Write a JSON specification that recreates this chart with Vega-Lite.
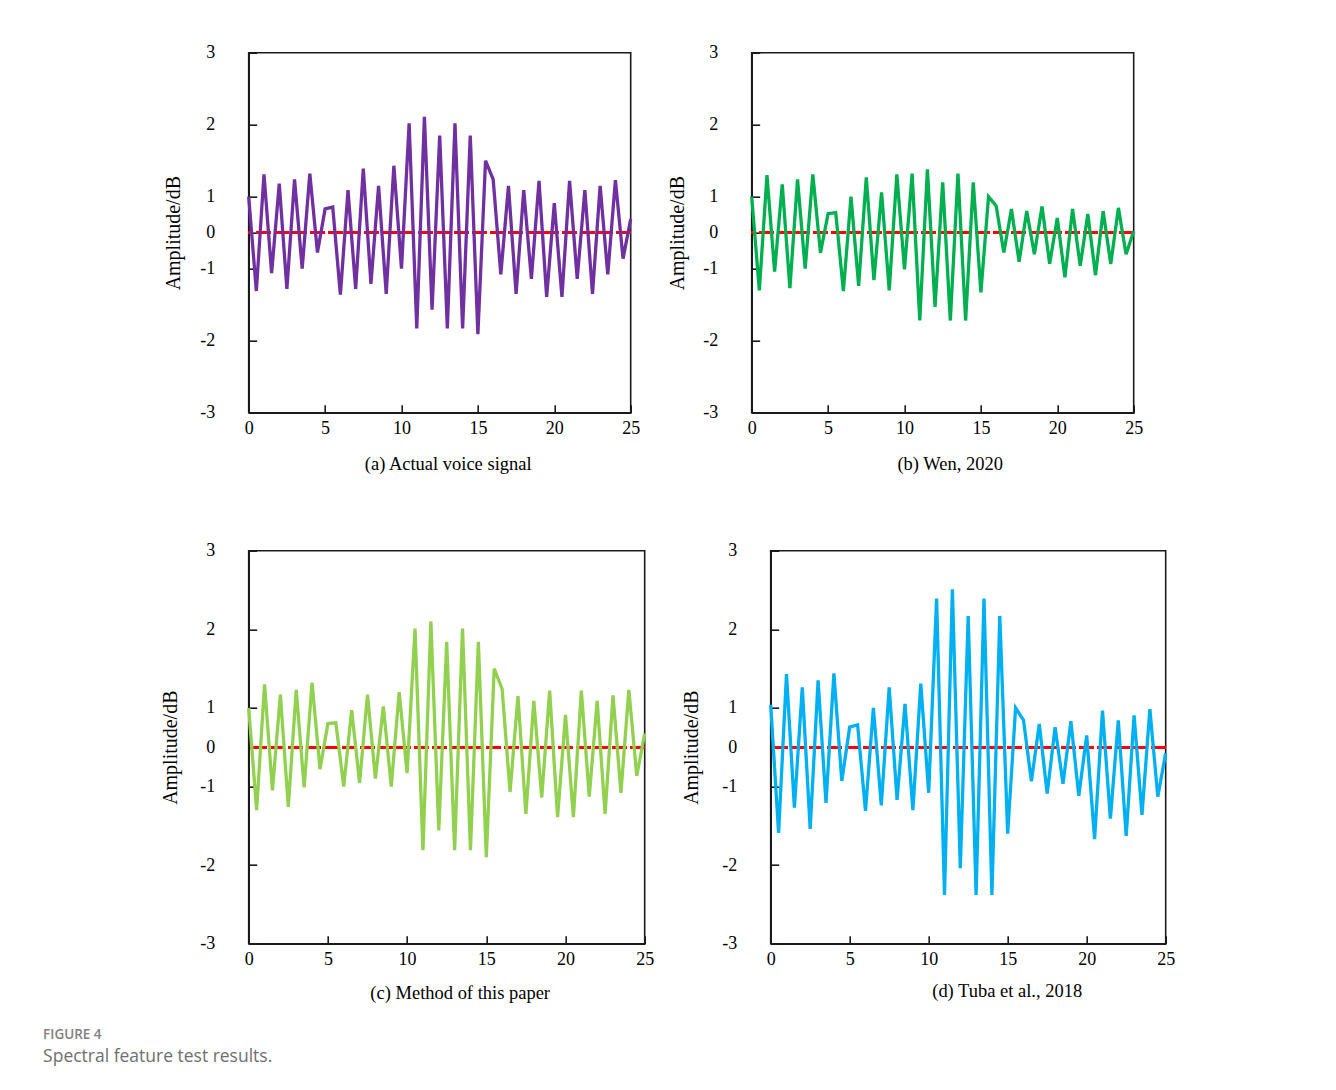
{
  "$schema": "https://vega.github.io/schema/vega-lite/v6.json",
  "background": "white",
  "padding": {"left": 42.7, "top": 42.7, "right": 5, "bottom": 5},
  "autosize": {"type": "pad"},
  "title": {
    "text": "FIGURE 4",
    "subtitle": "Spectral feature test results.",
    "orient": "bottom",
    "anchor": "start",
    "frame": "bounds",
    "offset": 25,
    "dx": -116.3,
    "baseline": "top",
    "font": "Open Sans",
    "fontSize": 13.5,
    "fontWeight": 600,
    "color": "#808080",
    "subtitleFont": "Open Sans",
    "subtitleFontSize": 17.5,
    "subtitleColor": "#6e6e6e",
    "subtitlePadding": 7
  },
  "datasets": {
    "a": [
      {"t": 0, "v": 1.0}, {"t": 0.5, "v": -1.31}, {"t": 1, "v": 1.31}, {"t": 1.5, "v": -1.06}, {"t": 2, "v": 1.18},
      {"t": 2.5, "v": -1.28}, {"t": 3, "v": 1.24}, {"t": 3.5, "v": -1.0}, {"t": 4, "v": 1.32}, {"t": 4.5, "v": -0.55},
      {"t": 5, "v": 0.66}, {"t": 5.5, "v": 0.71}, {"t": 6, "v": -1.36}, {"t": 6.5, "v": 1.09}, {"t": 7, "v": -1.28},
      {"t": 7.5, "v": 1.39}, {"t": 8, "v": -1.21}, {"t": 8.5, "v": 1.15}, {"t": 9, "v": -1.35}, {"t": 9.5, "v": 1.43},
      {"t": 10, "v": -1.0}, {"t": 10.5, "v": 2.02}, {"t": 11, "v": -1.83}, {"t": 11.5, "v": 2.11}, {"t": 12, "v": -1.57},
      {"t": 12.5, "v": 1.85}, {"t": 13, "v": -1.83}, {"t": 13.5, "v": 2.02}, {"t": 14, "v": -1.83}, {"t": 14.5, "v": 1.85},
      {"t": 15, "v": -1.91}, {"t": 15.5, "v": 1.5}, {"t": 16, "v": 1.24}, {"t": 16.5, "v": -1.08}, {"t": 17, "v": 1.15},
      {"t": 17.5, "v": -1.35}, {"t": 18, "v": 1.09}, {"t": 18.5, "v": -1.14}, {"t": 19, "v": 1.22}, {"t": 19.5, "v": -1.39},
      {"t": 20, "v": 0.82}, {"t": 20.5, "v": -1.39}, {"t": 21, "v": 1.22}, {"t": 21.5, "v": -1.14}, {"t": 22, "v": 1.09},
      {"t": 22.5, "v": -1.35}, {"t": 23, "v": 1.15}, {"t": 23.5, "v": -1.08}, {"t": 24, "v": 1.23}, {"t": 24.5, "v": -0.72},
      {"t": 25, "v": 0.38}
    ],
    "b": [
      {"t": 0, "v": 1.0}, {"t": 0.5, "v": -1.30}, {"t": 1, "v": 1.30}, {"t": 1.5, "v": -1.04}, {"t": 2, "v": 1.17},
      {"t": 2.5, "v": -1.27}, {"t": 3, "v": 1.24}, {"t": 3.5, "v": -1.0}, {"t": 4, "v": 1.31}, {"t": 4.5, "v": -0.56},
      {"t": 5, "v": 0.53}, {"t": 5.5, "v": 0.56}, {"t": 6, "v": -1.31}, {"t": 6.5, "v": 1.0}, {"t": 7, "v": -1.24},
      {"t": 7.5, "v": 1.27}, {"t": 8, "v": -1.16}, {"t": 8.5, "v": 1.06}, {"t": 9, "v": -1.30}, {"t": 9.5, "v": 1.31},
      {"t": 10, "v": -1.01}, {"t": 10.5, "v": 1.32}, {"t": 11, "v": -1.72}, {"t": 11.5, "v": 1.38}, {"t": 12, "v": -1.53},
      {"t": 12.5, "v": 1.20}, {"t": 13, "v": -1.72}, {"t": 13.5, "v": 1.32}, {"t": 14, "v": -1.72}, {"t": 14.5, "v": 1.20},
      {"t": 15, "v": -1.33}, {"t": 15.5, "v": 1.0}, {"t": 16, "v": 0.74}, {"t": 16.5, "v": -0.55}, {"t": 17, "v": 0.66},
      {"t": 17.5, "v": -0.81}, {"t": 18, "v": 0.60}, {"t": 18.5, "v": -0.60}, {"t": 19, "v": 0.73}, {"t": 19.5, "v": -0.86},
      {"t": 20, "v": 0.41}, {"t": 20.5, "v": -1.12}, {"t": 21, "v": 0.66}, {"t": 21.5, "v": -0.92}, {"t": 22, "v": 0.52},
      {"t": 22.5, "v": -1.09}, {"t": 23, "v": 0.60}, {"t": 23.5, "v": -0.87}, {"t": 24, "v": 0.69}, {"t": 24.5, "v": -0.60},
      {"t": 25, "v": 0.04}
    ],
    "c": [
      {"t": 0, "v": 1.0}, {"t": 0.5, "v": -1.30}, {"t": 1, "v": 1.30}, {"t": 1.5, "v": -1.05}, {"t": 2, "v": 1.17},
      {"t": 2.5, "v": -1.26}, {"t": 3, "v": 1.23}, {"t": 3.5, "v": -1.01}, {"t": 4, "v": 1.32}, {"t": 4.5, "v": -0.56},
      {"t": 5, "v": 0.60}, {"t": 5.5, "v": 0.62}, {"t": 6, "v": -1.0}, {"t": 6.5, "v": 0.94}, {"t": 7, "v": -0.91},
      {"t": 7.5, "v": 1.17}, {"t": 8, "v": -0.80}, {"t": 8.5, "v": 1.02}, {"t": 9, "v": -1.0}, {"t": 9.5, "v": 1.20},
      {"t": 10, "v": -0.66}, {"t": 10.5, "v": 2.01}, {"t": 11, "v": -1.81}, {"t": 11.5, "v": 2.10}, {"t": 12, "v": -1.56},
      {"t": 12.5, "v": 1.84}, {"t": 13, "v": -1.81}, {"t": 13.5, "v": 2.01}, {"t": 14, "v": -1.81}, {"t": 14.5, "v": 1.84},
      {"t": 15, "v": -1.90}, {"t": 15.5, "v": 1.50}, {"t": 16, "v": 1.24}, {"t": 16.5, "v": -1.07}, {"t": 17, "v": 1.15},
      {"t": 17.5, "v": -1.35}, {"t": 18, "v": 1.09}, {"t": 18.5, "v": -1.14}, {"t": 19, "v": 1.22}, {"t": 19.5, "v": -1.39},
      {"t": 20, "v": 0.82}, {"t": 20.5, "v": -1.39}, {"t": 21, "v": 1.22}, {"t": 21.5, "v": -1.13}, {"t": 22, "v": 1.09},
      {"t": 22.5, "v": -1.35}, {"t": 23, "v": 1.16}, {"t": 23.5, "v": -1.08}, {"t": 24, "v": 1.23}, {"t": 24.5, "v": -0.73},
      {"t": 25, "v": 0.35}
    ],
    "d": [
      {"t": 0, "v": 1.04}, {"t": 0.5, "v": -1.59}, {"t": 1, "v": 1.43}, {"t": 1.5, "v": -1.27}, {"t": 2, "v": 1.26},
      {"t": 2.5, "v": -1.54}, {"t": 3, "v": 1.35}, {"t": 3.5, "v": -1.21}, {"t": 4, "v": 1.44}, {"t": 4.5, "v": -0.86},
      {"t": 5, "v": 0.51}, {"t": 5.5, "v": 0.57}, {"t": 6, "v": -1.31}, {"t": 6.5, "v": 1.0}, {"t": 7, "v": -1.24},
      {"t": 7.5, "v": 1.26}, {"t": 8, "v": -1.17}, {"t": 8.5, "v": 1.05}, {"t": 9, "v": -1.30}, {"t": 9.5, "v": 1.31},
      {"t": 10, "v": -1.08}, {"t": 10.5, "v": 2.39}, {"t": 11, "v": -2.38}, {"t": 11.5, "v": 2.51}, {"t": 12, "v": -2.04},
      {"t": 12.5, "v": 2.17}, {"t": 13, "v": -2.38}, {"t": 13.5, "v": 2.39}, {"t": 14, "v": -2.38}, {"t": 14.5, "v": 2.17},
      {"t": 15, "v": -1.60}, {"t": 15.5, "v": 1.0}, {"t": 16, "v": 0.69}, {"t": 16.5, "v": -0.87}, {"t": 17, "v": 0.59},
      {"t": 17.5, "v": -1.09}, {"t": 18, "v": 0.51}, {"t": 18.5, "v": -0.93}, {"t": 19, "v": 0.66}, {"t": 19.5, "v": -1.12},
      {"t": 20, "v": 0.30}, {"t": 20.5, "v": -1.67}, {"t": 21, "v": 0.93}, {"t": 21.5, "v": -1.41}, {"t": 22, "v": 0.68},
      {"t": 22.5, "v": -1.63}, {"t": 23, "v": 0.81}, {"t": 23.5, "v": -1.36}, {"t": 24, "v": 0.97}, {"t": 24.5, "v": -1.13},
      {"t": 25, "v": -0.15}
    ]
  },
  "config": {
    "view": {"stroke": "#1a1a1a", "strokeWidth": 1.6},
    "axis": {
      "grid": false,
      "domainColor": "#1a1a1a",
      "domainWidth": 1.6,
      "tickColor": "#1a1a1a",
      "tickWidth": 1.6,
      "tickSize": -8,
      "labelFont": "Liberation Serif",
      "labelFontSize": 18,
      "labelColor": "#000000",
      "labelFlush": false,
      "labelOverlap": false,
      "titleFont": "Liberation Serif",
      "titleFontSize": 20,
      "titleFontWeight": "normal",
      "titleColor": "#000000"
    },
    "axisX": {"labelPadding": 15, "titleFontSize": 18.5},
    "axisY": {"labelPadding": 42}
  },
  "columns": 1,
  "align": "none",
  "spacing": 66,
  "bounds": "full",
  "concat": [
    {
      "spacing": 121,
      "bounds": "flush",
      "hconcat": [
        {
          "width": 382, "height": 360,
          "data": {"name": "a"},
          "layer": [
            {
              "mark": {"type": "rule", "color": "#ff0000", "strokeWidth": 2, "strokeDash": [14, 4]},
              "encoding": {
                "y": {"datum": 0, "type": "quantitative",
                  "scale": {"domain": [-3, -2, -1, 0, 1, 2, 3], "range": [360, 288, 216, 180, 144, 72, 0], "nice": false, "zero": false}}
              }
            },
            {
              "mark": {"type": "line", "color": "#7030A0", "strokeWidth": 3.3},
              "encoding": {
                "x": {"field": "t", "type": "quantitative",
                  "scale": {"domain": [0, 25], "nice": false, "zero": false},
                  "axis": {"values": [0, 5, 10, 15, 20, 25], "title": "(a) Actual voice signal", "titleBaseline": "middle", "titleY": 51.3, "titleX": 199}},
                "y": {"field": "v", "type": "quantitative",
                  "scale": {"domain": [-3, -2, -1, 0, 1, 2, 3], "range": [360, 288, 216, 180, 144, 72, 0], "nice": false, "zero": false},
                  "axis": {"values": [-3, -2, -1, 0, 1, 2, 3], "labelExpr": "'' + datum.value", "title": "Amplitude/dB", "titleBaseline": "middle", "titleX": -75}}
              }
            }
          ]
        },
        {
          "width": 382, "height": 360,
          "data": {"name": "b"},
          "layer": [
            {
              "mark": {"type": "rule", "color": "#ff0000", "strokeWidth": 2, "strokeDash": [14, 4]},
              "encoding": {
                "y": {"datum": 0, "type": "quantitative",
                  "scale": {"domain": [-3, -2, -1, 0, 1, 2, 3], "range": [360, 288, 216, 180, 144, 72, 0], "nice": false, "zero": false}}
              }
            },
            {
              "mark": {"type": "line", "color": "#00B050", "strokeWidth": 3.3},
              "encoding": {
                "x": {"field": "t", "type": "quantitative",
                  "scale": {"domain": [0, 25], "nice": false, "zero": false},
                  "axis": {"values": [0, 5, 10, 15, 20, 25], "title": "(b) Wen, 2020", "titleBaseline": "middle", "titleY": 51.3, "titleX": 198}},
                "y": {"field": "v", "type": "quantitative",
                  "scale": {"domain": [-3, -2, -1, 0, 1, 2, 3], "range": [360, 288, 216, 180, 144, 72, 0], "nice": false, "zero": false},
                  "axis": {"values": [-3, -2, -1, 0, 1, 2, 3], "labelExpr": "'' + datum.value", "title": "Amplitude/dB", "titleBaseline": "middle", "titleX": -74}}
              }
            }
          ]
        }
      ]
    },
    {
      "spacing": 126,
      "bounds": "flush",
      "hconcat": [
        {
          "width": 396, "height": 393,
          "data": {"name": "c"},
          "layer": [
            {
              "mark": {"type": "rule", "color": "#ff0000", "strokeWidth": 2, "strokeDash": [14, 4]},
              "encoding": {
                "y": {"datum": 0, "type": "quantitative",
                  "scale": {"domain": [-3, -2, -1, 0, 1, 2, 3], "range": [393, 314.4, 235.8, 196.5, 157.2, 78.6, 0], "nice": false, "zero": false}}
              }
            },
            {
              "mark": {"type": "line", "color": "#92D050", "strokeWidth": 3.3},
              "encoding": {
                "x": {"field": "t", "type": "quantitative",
                  "scale": {"domain": [0, 25], "nice": false, "zero": false},
                  "axis": {"values": [0, 5, 10, 15, 20, 25], "title": "(c) Method of this paper", "titleBaseline": "middle", "titleY": 48.7, "titleX": 211}},
                "y": {"field": "v", "type": "quantitative",
                  "scale": {"domain": [-3, -2, -1, 0, 1, 2, 3], "range": [393, 314.4, 235.8, 196.5, 157.2, 78.6, 0], "nice": false, "zero": false},
                  "axis": {"values": [-3, -2, -1, 0, 1, 2, 3], "labelExpr": "'' + datum.value", "title": "Amplitude/dB", "titleBaseline": "middle", "titleX": -78.5}}
              }
            }
          ]
        },
        {
          "width": 395, "height": 393,
          "data": {"name": "d"},
          "layer": [
            {
              "mark": {"type": "rule", "color": "#ff0000", "strokeWidth": 2, "strokeDash": [14, 4]},
              "encoding": {
                "y": {"datum": 0, "type": "quantitative",
                  "scale": {"domain": [-3, -2, -1, 0, 1, 2, 3], "range": [393, 314.4, 235.8, 196.5, 157.2, 78.6, 0], "nice": false, "zero": false}}
              }
            },
            {
              "mark": {"type": "line", "color": "#00B0F0", "strokeWidth": 3.3},
              "encoding": {
                "x": {"field": "t", "type": "quantitative",
                  "scale": {"domain": [0, 25], "nice": false, "zero": false},
                  "axis": {"values": [0, 5, 10, 15, 20, 25], "title": "(d) Tuba et al., 2018", "titleBaseline": "middle", "titleY": 46.7, "titleX": 236}},
                "y": {"field": "v", "type": "quantitative",
                  "scale": {"domain": [-3, -2, -1, 0, 1, 2, 3], "range": [393, 314.4, 235.8, 196.5, 157.2, 78.6, 0], "nice": false, "zero": false},
                  "axis": {"values": [-3, -2, -1, 0, 1, 2, 3], "labelExpr": "'' + datum.value", "title": "Amplitude/dB", "titleBaseline": "middle", "titleX": -78.7}}
              }
            }
          ]
        }
      ]
    }
  ]
}
